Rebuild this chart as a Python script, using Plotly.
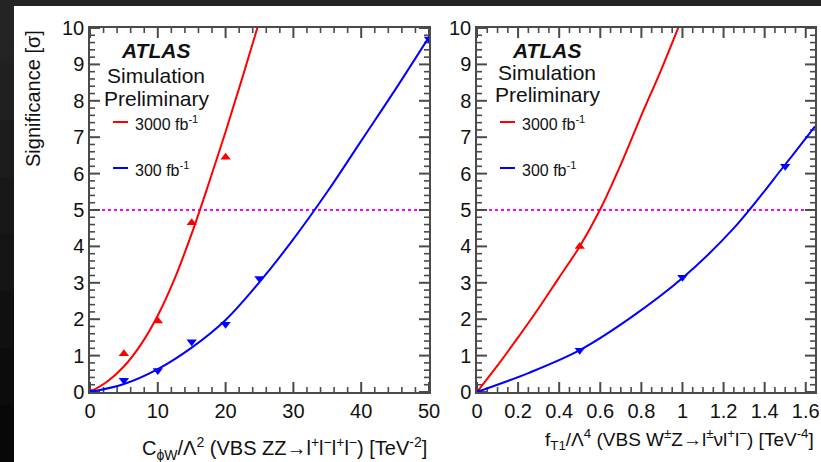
import plotly.graph_objects as go

W, H = 821, 462

# ---------------- data ----------------
# Left panel: C_phiW / Lambda^2
cphiw_pts_3000_x = [0, 5, 10, 15, 20]
cphiw_pts_3000_y = [0, 1.05, 1.95, 4.65, 6.45]
cphiw_pts_300_x = [0, 5, 10, 15, 20, 25, 50]
cphiw_pts_300_y = [0, 0.32, 0.59, 1.38, 1.86, 3.12, 9.7]
cphiw_fit_3000_x = [0, 2.5, 5, 7.5, 10, 12.5, 15, 17.5, 20, 22.5, 25]
cphiw_fit_3000_y = [0, 0.28, 0.70, 1.30, 2.10, 3.12, 4.35, 5.72, 7.15, 8.65, 10.2]
cphiw_fit_300_x = [0, 5, 10, 15, 20, 25, 30, 35, 40, 45, 50]
cphiw_fit_300_y = [0, 0.22, 0.63, 1.22, 1.98, 3.02, 4.2, 5.5, 6.9, 8.3, 9.75]

# Right panel: f_T1 / Lambda^4
ft1_pts_3000_x = [0, 0.5]
ft1_pts_3000_y = [0, 4.0]
ft1_pts_300_x = [0, 0.5, 1.0, 1.5]
ft1_pts_300_y = [0, 1.15, 3.15, 6.2]
ft1_fit_3000_x = [0, 0.1, 0.2, 0.3, 0.4, 0.5, 0.6, 0.7, 0.8, 0.9, 1.0]
ft1_fit_3000_y = [0, 0.73, 1.5, 2.3, 3.15, 4.0, 5.02, 6.25, 7.6, 8.9, 10.3]
ft1_fit_300_x = [0, 0.25, 0.5, 0.75, 1.0, 1.25, 1.5, 1.645]
ft1_fit_300_y = [0, 0.52, 1.15, 2.05, 3.13, 4.5, 6.25, 7.3]

threshold = 5
series_names = ["3000 fb<sup>-1</sup>", "300 fb<sup>-1</sup>"]
RED, BLUE, MAG = "#ff0000", "#0000ff", "#ff00ff"
AXC = "#4a4a4a"
FONT = "Liberation Sans, Arial, Helvetica, sans-serif"

# axis settings: (range max, major step, minor step)
x1_range, x1_major, x1_minor = 50, 10, 2
x2_range, x2_major, x2_minor = 1.645, 0.2, 0.05
y_range, y_major, y_minor = 10, 1, 0.2


def px(x):
    return x / W


def py(y):
    return 1 - y / H


fig = go.Figure()

yd = [py(392), py(28)]
xd1 = [px(90), px(429)]
xd2 = [px(477), px(815)]


def tick_values(rmax, major, minor):
    ratio = int(round(major / minor))
    out = []
    i = 0
    while i * minor <= rmax + 1e-9:
        out.append((i * minor, i % ratio == 0))
        i += 1
    return out


# inside ticks on all four sides (ROOT style), drawn as line traces on each subplot's own scale
plot_h_px = (yd[1] - yd[0]) * H
for xa, ya, xr, xM, xm, xd in [("x", "y", x1_range, x1_major, x1_minor, xd1),
                                ("x2", "y2", x2_range, x2_major, x2_minor, xd2)]:
    plot_w_px = (xd[1] - xd[0]) * W
    ux = xr / plot_w_px          # data units per pixel along x
    uy = y_range / plot_h_px     # data units per pixel along y
    for major in (True, False):
        L = 10 if major else 5
        w = 2 if major else 1.6
        tx, ty = [], []
        for v, is_major in tick_values(xr, xM, xm):
            if is_major != major:
                continue
            tx += [v, v, None, v, v, None]
            ty += [0, L * uy, None, y_range, y_range - L * uy, None]
        for v, is_major in tick_values(y_range, y_major, y_minor):
            if is_major != major:
                continue
            tx += [0, L * ux, None, xr, xr - L * ux, None]
            ty += [v, v, None, v, v, None]
        fig.add_trace(go.Scatter(x=tx, y=ty, mode="lines", line=dict(color=AXC, width=w),
                                 hoverinfo="skip", showlegend=False, xaxis=xa, yaxis=ya,
                                 cliponaxis=False))

panels = [
    ("x", "y", cphiw_fit_3000_x, cphiw_fit_3000_y, cphiw_fit_300_x, cphiw_fit_300_y,
     cphiw_pts_3000_x, cphiw_pts_3000_y, cphiw_pts_300_x, cphiw_pts_300_y),
    ("x2", "y2", ft1_fit_3000_x, ft1_fit_3000_y, ft1_fit_300_x, ft1_fit_300_y,
     ft1_pts_3000_x, ft1_pts_3000_y, ft1_pts_300_x, ft1_pts_300_y),
]
for xa, ya, f3x, f3y, f0x, f0y, p3x, p3y, p0x, p0y in panels:
    fig.add_trace(go.Scatter(x=f3x, y=f3y, mode="lines", line=dict(color=RED, width=2, shape="spline"),
                             name=series_names[0], xaxis=xa, yaxis=ya, showlegend=False))
    fig.add_trace(go.Scatter(x=f0x, y=f0y, mode="lines", line=dict(color=BLUE, width=2, shape="spline"),
                             name=series_names[1], xaxis=xa, yaxis=ya, showlegend=False))
    fig.add_trace(go.Scatter(x=p3x, y=p3y, mode="markers",
                             marker=dict(symbol="triangle-up", size=9, color=RED),
                             xaxis=xa, yaxis=ya, showlegend=False))
    fig.add_trace(go.Scatter(x=p0x, y=p0y, mode="markers",
                             marker=dict(symbol="triangle-down", size=9, color=BLUE),
                             xaxis=xa, yaxis=ya, showlegend=False))


def axis(domain, anchor, rng, dtick):
    return dict(
        domain=domain, anchor=anchor, range=[0, rng], tick0=0, dtick=dtick,
        showline=True, linecolor=AXC, linewidth=1.5, mirror=True,
        ticks="", showgrid=False, zeroline=False, automargin=False,
        tickfont=dict(family=FONT, size=20, color="#111111"),
    )


fig.update_layout(
    width=W, height=H,
    margin=dict(l=0, r=0, t=0, b=0),
    paper_bgcolor="white", plot_bgcolor="white",
    showlegend=False,
    xaxis=axis(xd1, "y", x1_range, x1_major),
    yaxis=axis(yd, "x", y_range, y_major),
    xaxis2=axis(xd2, "y2", x2_range, x2_major),
    yaxis2=axis(yd, "x2", y_range, y_major),
)

shapes = []
# dark frame (top band and left band with a slight gradient)
shapes.append(dict(type="rect", xref="paper", yref="paper", x0=0, x1=1, y0=py(6), y1=1,
                   fillcolor="#232323", line=dict(width=0), layer="above"))
grads = ["#232323", "#202020", "#1c1c1c", "#181818", "#141414", "#101010", "#0c0c0c", "#080808"]
n = len(grads)
for i, c in enumerate(grads):
    y0 = 6 + (H - 6) * i / n
    y1 = 6 + (H - 6) * (i + 1) / n
    shapes.append(dict(type="rect", xref="paper", yref="paper", x0=0, x1=px(14), y0=py(y1), y1=py(y0),
                       fillcolor=c, line=dict(width=0), layer="above"))
# 5 sigma dotted lines
for xa, ya in [("x", "y"), ("x2", "y2")]:
    shapes.append(dict(type="line", xref=f"{xa} domain", yref=ya, x0=0, x1=1, y0=threshold, y1=threshold,
                       line=dict(color=MAG, width=2, dash="dot"), layer="below"))
# legend line samples
for x0, x1 in [(113, 128), (500, 515)]:
    shapes.append(dict(type="line", xref="paper", yref="paper", x0=px(x0), x1=px(x1), y0=py(122), y1=py(122),
                       line=dict(color=RED, width=2)))
    shapes.append(dict(type="line", xref="paper", yref="paper", x0=px(x0), x1=px(x1), y0=py(168), y1=py(168),
                       line=dict(color=BLUE, width=2)))
fig.update_layout(shapes=shapes)

ann = []


def text(x, y, s, size=20, xanchor="center", yanchor="middle", angle=0, bold=False, italic=False):
    if bold:
        s = f"<b>{s}</b>"
    if italic:
        s = f"<i>{s}</i>"
    ann.append(dict(xref="paper", yref="paper", x=px(x), y=py(y), text=s, showarrow=False,
                    xanchor=xanchor, yanchor=yanchor, textangle=angle,
                    font=dict(family=FONT, size=size, color="#111111")))


for cx, ys in [(155, (50, 75, 98)), (546, (50, 72, 95))]:
    text(cx, ys[0], "ATLAS", size=21, bold=True, italic=True)
    text(cx + 1, ys[1], "Simulation", size=21)
    text(cx + 2, ys[2], "Preliminary", size=21)
for x0 in (133, 520):
    text(x0, 123, series_names[0], size=16, xanchor="left")
    text(x0, 169, series_names[1], size=16, xanchor="left")
text(33, 99, "Significance [σ]", size=20, angle=-90)
text(429, 448, "C<sub>ϕW</sub>/Λ<sup>2</sup> (VBS ZZ→l<sup>+</sup>l<sup>−</sup>l<sup>+</sup>l<sup>−</sup>) [TeV<sup>-2</sup>]",
     size=20, xanchor="right")
text(816, 439, "f<sub>T1</sub>/Λ<sup>4</sup> (VBS W<sup>±</sup>Z→l<sup>±</sup>νl<sup>+</sup>l<sup>−</sup>) [TeV<sup>-4</sup>]",
     size=19, xanchor="right")
fig.update_layout(annotations=ann)

fig.write_html("out.html")
